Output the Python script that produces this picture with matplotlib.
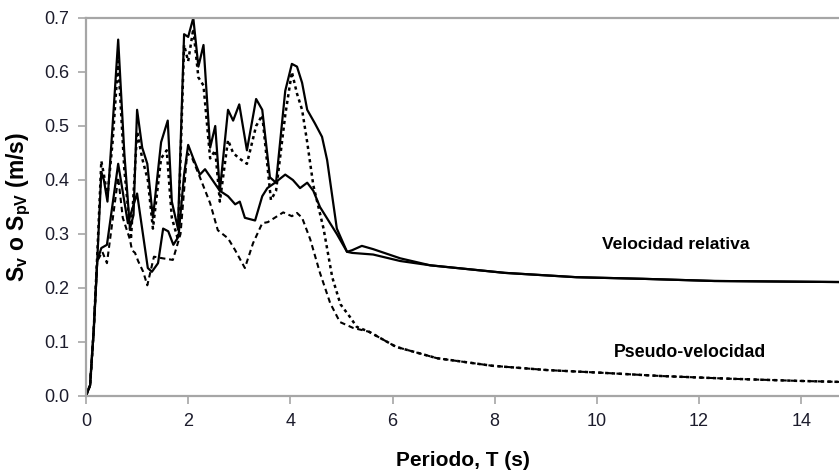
import matplotlib
matplotlib.use("Agg")
import matplotlib.pyplot as plt

plt.rcParams['font.family'] = ['Liberation Sans', 'DejaVu Sans']
plt.rcParams['mathtext.fontset'] = 'custom'
plt.rcParams['mathtext.rm'] = 'Liberation Sans:bold'
plt.rcParams['mathtext.bf'] = 'Liberation Sans:bold'
plt.rcParams['mathtext.it'] = 'Liberation Sans:bold'

# ---------------- data ----------------
# tail shared by both relative-velocity curves
t_tail_sv = [5.62, 6.15, 6.74, 7.26, 8.2, 9.6, 10.9, 12.3, 14.8]
v_tail_sv = [0.272, 0.255, 0.242, 0.237, 0.228, 0.220, 0.217, 0.213, 0.211]

# tail shared by both pseudo-velocity curves
t_tail_pv = [5.3, 5.54, 6.07, 6.87, 7.95, 9.03, 10.1, 11.26, 12.6, 13.94, 14.8]
v_tail_pv = [0.128, 0.119, 0.091, 0.070, 0.056, 0.048, 0.043, 0.037, 0.032, 0.028, 0.026]

# Sv, low damping (upper solid)
t_sv1 = [0, 0.08, 0.15, 0.22, 0.3, 0.35, 0.42, 0.52, 0.63, 0.75, 0.86, 0.93, 1.0, 1.1,
         1.2, 1.31, 1.47, 1.6, 1.68, 1.8, 1.92, 2.0, 2.1, 2.2, 2.3, 2.43, 2.53, 2.62,
         2.78, 2.88, 3.0, 3.15, 3.33, 3.45, 3.6, 3.72, 3.9, 4.03, 4.13, 4.23, 4.33,
         4.48, 4.62, 4.72, 4.91, 5.11, 5.21, 5.4]
v_sv1 = [0, 0.02, 0.12, 0.25, 0.415, 0.40, 0.36, 0.50, 0.66, 0.45, 0.31, 0.335, 0.53, 0.46,
         0.43, 0.33, 0.47, 0.51, 0.36, 0.31, 0.67, 0.665, 0.70, 0.61, 0.65, 0.46, 0.50, 0.38,
         0.53, 0.51, 0.54, 0.455, 0.55, 0.53, 0.405, 0.395, 0.565, 0.615, 0.61, 0.58, 0.53,
         0.505, 0.48, 0.437, 0.31, 0.267, 0.27, 0.278]

# Spv, low damping (upper dotted)
t_pv1 = [0, 0.08, 0.15, 0.22, 0.3, 0.35, 0.42, 0.52, 0.63, 0.75, 0.88, 1.0, 1.1, 1.21,
         1.31, 1.47, 1.58, 1.68, 1.8, 1.92, 2.0, 2.1, 2.2, 2.3, 2.43, 2.53, 2.62, 2.78,
         2.88, 3.0, 3.15, 3.33, 3.45, 3.62, 3.72, 3.9, 4.03, 4.13, 4.23, 4.33, 4.45,
         4.65, 4.82, 4.98, 5.17]
v_pv1 = [0, 0.02, 0.12, 0.26, 0.435, 0.41, 0.37, 0.47, 0.62, 0.42, 0.29, 0.49, 0.44, 0.40,
         0.31, 0.44, 0.455, 0.33, 0.29, 0.65, 0.62, 0.68, 0.59, 0.575, 0.44, 0.455, 0.36, 0.474,
         0.45, 0.44, 0.43, 0.50, 0.52, 0.363, 0.38, 0.52, 0.60, 0.56, 0.53, 0.47, 0.39,
         0.31, 0.22, 0.17, 0.146]

# Sv, higher damping (lower solid)
t_sv2 = [0, 0.08, 0.15, 0.22, 0.3, 0.41, 0.63, 0.82, 1.0, 1.21, 1.29, 1.41, 1.51, 1.61,
         1.71, 1.81, 1.92, 2.0, 2.1, 2.23, 2.33, 2.62, 2.78, 2.92, 3.01, 3.11, 3.31, 3.45,
         3.55, 3.7, 3.9, 4.05, 4.19, 4.33, 4.45, 4.58, 4.91, 5.11, 5.21, 5.62, 6.15]
v_sv2 = [0, 0.02, 0.12, 0.25, 0.274, 0.28, 0.43, 0.32, 0.375, 0.237, 0.23, 0.246, 0.31, 0.305,
         0.28, 0.295, 0.41, 0.465, 0.44, 0.41, 0.42, 0.38, 0.37, 0.355, 0.36, 0.33, 0.325, 0.37,
         0.385, 0.395, 0.41, 0.40, 0.385, 0.395, 0.38, 0.35, 0.30, 0.267, 0.265, 0.262, 0.25]

# Spv, higher damping (lower dashed)
t_pv2 = [0, 0.08, 0.15, 0.22, 0.32, 0.41, 0.63, 0.72, 0.86, 0.9, 0.96, 1.02, 1.12, 1.2,
         1.33, 1.5, 1.7, 1.85, 1.98, 2.08, 2.23, 2.43, 2.58, 2.78, 2.92, 3.11, 3.27,
         3.45, 3.56, 3.86, 4.03, 4.13, 4.23, 4.39, 4.58, 4.78, 4.97, 5.23]
v_pv2 = [0, 0.02, 0.12, 0.25, 0.267, 0.246, 0.405, 0.33, 0.29, 0.27, 0.265, 0.25, 0.23, 0.205,
         0.258, 0.255, 0.252, 0.3, 0.45, 0.44, 0.405, 0.357, 0.307, 0.292, 0.27, 0.237, 0.283,
         0.32, 0.322, 0.34, 0.333, 0.339, 0.33, 0.29, 0.228, 0.172, 0.137, 0.126]

x_ticks = [0, 2, 4, 6, 8, 10, 12, 14]
y_ticks = [0.0, 0.1, 0.2, 0.3, 0.4, 0.5, 0.6, 0.7]
label_sv = "Velocidad relativa"
label_pv = "Pseudo-velocidad"

# ---------------- figure ----------------
fig = plt.figure(figsize=(8.39, 4.70), dpi=100)
ax = fig.add_axes([86 / 839, 74 / 470, 1 - 86 / 839, (396 - 18) / 470])

lw = 1.6
ax.plot(t_sv1 + t_tail_sv, v_sv1 + v_tail_sv, color='black', lw=lw)
ax.plot(t_sv2 + t_tail_sv[2:], v_sv2 + v_tail_sv[2:], color='black', lw=lw)
ax.plot(t_pv1 + t_tail_pv, v_pv1 + v_tail_pv, color='black', lw=1.8,
        linestyle=(0, (1.3, 1.4)))
ax.plot(t_pv2 + t_tail_pv[1:], v_pv2 + v_tail_pv[1:], color='black', lw=1.5,
        linestyle=(0, (2.6, 1.8)))

ax.set_xlim(0, 14.74)
ax.set_ylim(0, 0.7)
ax.set_xticks(x_ticks)
ax.set_yticks(y_ticks)
ax.set_yticklabels([f"{v:.1f}" for v in y_ticks])

grey = '#a6a6a6'
for side in ['left', 'bottom', 'top']:
    ax.spines[side].set_color(grey)
    ax.spines[side].set_linewidth(1.6)
ax.spines['right'].set_visible(False)
ax.tick_params(axis='both', direction='out', length=6, width=1.2, color=grey,
               labelsize=13, labelcolor='#1c1c2c')
ax.tick_params(axis='x', pad=6)
ax.tick_params(axis='y', pad=6)

ax.set_xlabel("Periodo, T (s)", fontsize=15, fontweight='bold', labelpad=15)
ax.set_ylabel(r"S$_\mathbf{v}$ o S$_\mathbf{pV}$ (m/s)", fontsize=16.5,
              fontweight='bold', labelpad=8)

ax.text(11.55, 0.28, label_sv, fontsize=12.6, fontweight='bold', ha='center', va='center')
ax.text(11.83, 0.081, label_pv, fontsize=12.8, fontweight='bold', ha='center', va='center')

fig.savefig("out.png", dpi=100)
